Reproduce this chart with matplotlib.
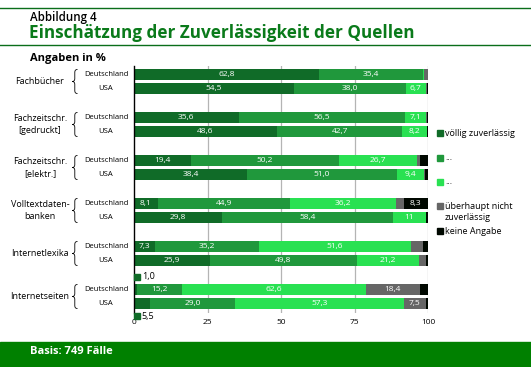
import matplotlib
matplotlib.use("Agg")
import matplotlib.pyplot as plt
from matplotlib import transforms
from matplotlib.path import Path
from matplotlib.patches import PathPatch, Rectangle
import numpy as np

plt.rcParams['font.family'] = ['Open Sans', 'DejaVu Sans']

# -----------------------------------------------
# data (order per group: Deutschland, USA)
# -----------------------------------------------
groups = ["Fachbücher", "Fachzeitschr.\n[gedruckt]", "Fachzeitschr.\n[elektr.]",
          "Volltextdaten-\nbanken", "Internetlexika", "Internetseiten"]
countries = ["Deutschland", "USA"]

voellig = [62.8, 54.5, 35.6, 48.6, 19.4, 38.4, 8.1, 29.8, 7.3, 25.9, 1.0, 5.5]
mittel = [35.4, 38.0, 56.5, 42.7, 50.2, 51.0, 44.9, 58.4, 35.2, 49.8, 15.2, 29.0]
hell = [0.6, 6.7, 7.1, 8.2, 26.7, 9.4, 36.2, 11, 51.6, 21.2, 62.6, 57.3]
ueberhaupt = [1.2, 0.4, 0.3, 0.0, 1.0, 0.2, 2.5, 0.0, 4.1, 2.5, 18.4, 7.5]
keine = [0.0, 0.4, 0.5, 0.5, 2.7, 1.0, 8.3, 0.8, 1.8, 0.6, 2.8, 0.7]

series = [voellig, mittel, hell, ueberhaupt, keine]
labels = ["völlig zuverlässig", "...", "...", "überhaupt nicht\nzuverlässig", "keine Angabe"]
colors = ["#106b28", "#20983c", "#29e152", "#666666", "#000800"]
xticks = [0, 25, 50, 75, 100]

W, H = 531, 367
green = "#008000"


def fmt(v):
    if isinstance(v, int):
        return str(v)
    return f"{v:.1f}".replace('.', ',')


fig = plt.figure(figsize=(W / 100, H / 100), dpi=100)
# pixel transform (origin top-left)
T = transforms.Affine2D().scale(1 / W, -1 / H).translate(0, 1) + fig.transFigure

ax = fig.add_axes([134 / W, (H - 313) / H, 294 / W, 247 / H])

# row positions (pixel-like units, top to bottom)
de_y = 74.5 + 43 * np.arange(len(groups))
ys = np.ravel(np.column_stack([de_y, de_y + 14]))

left = np.zeros(len(ys))
for raw_vals, col in zip(series, colors):
    vals = np.array(raw_vals, dtype=float)
    ax.barh(ys, vals, left=left, height=11.5, color=col, zorder=2)
    for y, l, v, raw in zip(ys, left, vals, raw_vals):
        if v >= 6:
            ax.text(l + v / 2, y, fmt(raw), color="white", fontsize=6, ha="center",
                    va="center", zorder=3)
    left += vals

# small values annotated outside (Internetseiten)
for y, v in [(ys[10] - 12.5, voellig[10]), (ys[11] + 12.5, voellig[11])]:
    ax.plot([1.0], [y], marker="s", markersize=4, color=colors[0], clip_on=False, zorder=3)
    ax.text(2.6, y, fmt(v), fontsize=6.5, ha="left", va="center", clip_on=False)

ax.set_xlim(0, 100)
ax.set_ylim(313, 66)
ax.set_xticks(xticks)
ax.set_xticklabels([str(t) for t in xticks], fontsize=6)
ax.tick_params(axis="x", length=0, pad=4)
ax.set_yticks([])
for x in xticks[1:]:
    ax.axvline(x, color="#b4b4b4", lw=0.9, zorder=1)
for s in ["top", "right", "bottom"]:
    ax.spines[s].set_visible(False)
ax.spines["left"].set_color("black")
ax.spines["left"].set_linewidth(1.0)

# group labels, braces, country labels
for g, name in enumerate(groups):
    yd, yu = ys[2 * g], ys[2 * g + 1]
    m = (yd + yu) / 2
    fig.text(40, m, name, transform=T, fontsize=6.5, ha="center", va="center",
             linespacing=1.35)
    h = 12
    verts = [(77.5, m - h), (75.5, m - h), (74.8, m - h + 1), (74.8, m - h + 3),
             (74.8, m - 3),
             (74.8, m - 1), (73.8, m), (72.3, m),
             (73.8, m), (74.8, m + 1), (74.8, m + 3),
             (74.8, m + h - 3),
             (74.8, m + h - 1), (75.5, m + h), (77.5, m + h)]
    codes = [Path.MOVETO, Path.CURVE4, Path.CURVE4, Path.CURVE4, Path.LINETO,
             Path.CURVE4, Path.CURVE4, Path.CURVE4, Path.CURVE4, Path.CURVE4, Path.CURVE4,
             Path.LINETO, Path.CURVE4, Path.CURVE4, Path.CURVE4]
    fig.add_artist(PathPatch(Path(verts, codes), transform=T, fill=False, lw=0.6,
                             edgecolor="black"))
    for y, c in zip([yd, yu], countries):
        fig.text(106, y, c, transform=T, fontsize=5.5, ha="center", va="center")

# legend
leg_y = [133, 158, 182, 206, 231]
for y, lab, col in zip(leg_y, labels, colors):
    fig.add_artist(Rectangle((437, y - 2.8), 5.5, 5.5, transform=T, color=col))
    n = lab.count("\n")
    fig.text(445, y + 6 * n, lab, transform=T, fontsize=6.5, ha="left", va="center",
             linespacing=1.25)

# header
fig.add_artist(plt.Line2D([0, W], [8, 8], transform=T, color="#0a6e1a", lw=1))
fig.add_artist(plt.Line2D([0, W], [44.5, 44.5], transform=T, color="#0a6e1a", lw=1))
fig.text(30, 17, "Abbildung 4", transform=T, fontsize=8.3, fontweight="semibold",
         ha="left", va="center")
fig.text(29, 33, "Einschätzung der Zuverlässigkeit der Quellen", transform=T,
         fontsize=12.3, fontweight="bold", color="#0a7a1a", ha="left", va="center")
fig.text(30, 58, "Angaben in %", transform=T, fontsize=8, fontweight="bold",
         ha="left", va="center")

# footer
fig.add_artist(Rectangle((0, 342), W, 25, transform=T, color=green))
fig.text(30, 352, "Basis: 749 Fälle", transform=T, fontsize=8, fontweight="bold",
         color="white", ha="left", va="center")

fig.savefig("out.png", dpi=100)
